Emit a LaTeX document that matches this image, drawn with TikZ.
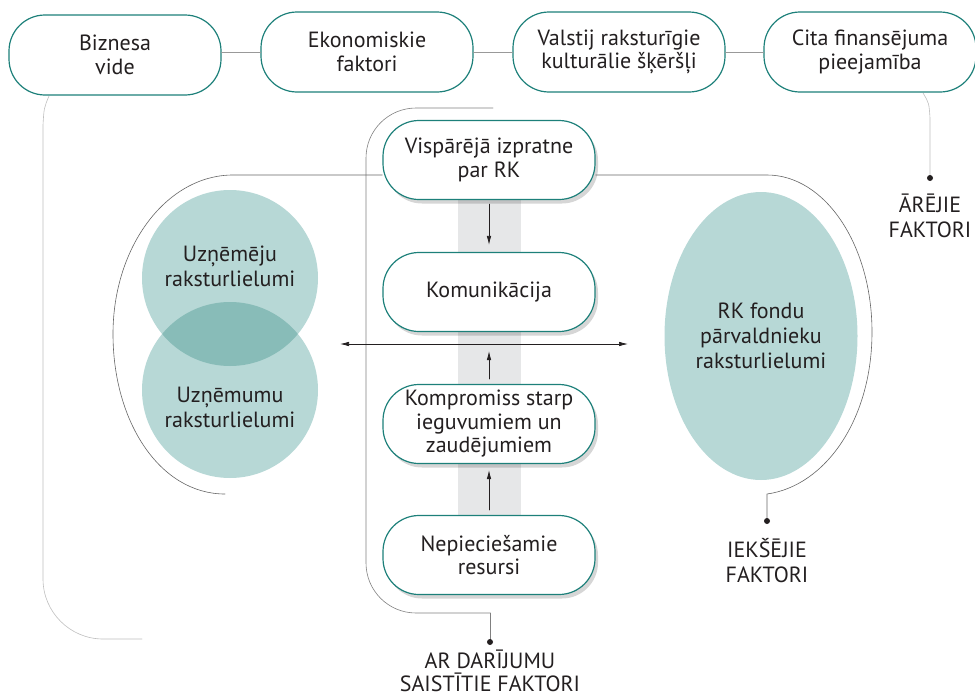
\documentclass[tikz,border=0pt]{standalone}
\usepackage{fontspec}
\setmainfont{PT Sans}
\usetikzlibrary{arrows.meta,shadows,shapes.geometric}
\definecolor{tealline}{HTML}{1D807A}
\definecolor{mint}{HTML}{B7D8D6}
\definecolor{mintdark}{HTML}{88BCB8}
\definecolor{band}{HTML}{E6E7E8}
\definecolor{ink}{HTML}{231F20}

\begin{document}
\begin{tikzpicture}[x=1pt,y=-1pt,line cap=round,line join=round,
    factor/.style={draw=tealline,line width=1.2pt,fill=white,rounded corners=36pt,
      minimum width=212pt,minimum height=80pt,align=center,text=ink,
      font=\fontsize{22}{23.5}\selectfont},
    stepbox/.style={factor,minimum height=79pt,
      drop shadow={shadow xshift=3pt,shadow yshift=-4pt,fill=black,opacity=0.16}},
    blob/.style={fill=mint,inner sep=0pt},
    blobtext/.style={align=center,text=ink,font=\fontsize{22}{25}\selectfont},
    note/.style={align=center,text=ink,inner sep=1pt,font=\fontsize{22}{25}\selectfont},
    rim/.style={draw=black!60,line width=0.6pt},
    rimlight/.style={draw=black!25,line width=0.6pt},
    link/.style={draw=black!40,line width=0.8pt},
    arr/.style={draw=ink,line width=0.7pt,-{Latex[length=9pt,width=4.5pt]}}]
  \useasboundingbox (0,0) rectangle (975,699);

  % grey band behind the column
  \fill[band] (458,200) rectangle (521,516);

  % outer outlines
  \draw[rimlight] (49,96) .. controls (44,108) .. (43,125) -- (43,579)
    .. controls (43,612) and (70,639) .. (103,639) -- (142,639);
  \draw[rimlight] (923,93) .. controls (929,103) .. (930,118) -- (930,178);
  \fill[ink] (930,178) circle (3pt);

  \draw[rim,draw=black!50,rounded corners=50pt] (493,108) -- (366,108) -- (366,613) -- (490,613);
  \draw[rim,draw=black!50] (490,613) -- (490,642);
  \fill[ink] (490,642) circle (3pt);

  % circles and ellipse
  \node[blob,circle,minimum size=176pt] (top) at (230,278) {};
  \node[blob,circle,minimum size=176pt] (low) at (230,390) {};
  \begin{scope}
    \clip (230,278) circle (88pt);
    \fill[mintdark] (230,390) circle (88pt);
  \end{scope}
  \node[blobtext] (uzn1) at (230,266) {Uzņēmēju\\raksturlielumi};
  \node[blobtext] (uzn2) at (230,407) {Uzņēmumu\\raksturlielumi};
  \node[blob,ellipse,minimum width=193pt,minimum height=288pt,blobtext] (rk) at (761,336)
    {RK fondu\\pārvaldnieku\\raksturlielumi};

  % top row
  \node[factor] (biz) at (115,55) {Biznesa\\vide};
  \node[factor] (eko) at (367,52) {Ekonomiskie\\faktori};
  \node[factor] (val) at (619,52) {Valstij raksturīgie\\kulturālie šķēršļi};
  \node[factor] (cita) at (870,52) {Cita finansējuma\\pieejamība};
  \draw[link] (biz.east |- eko.west) -- (eko.west);
  \draw[link] (eko) -- (val);
  \draw[link] (val) -- (cita);

  % column
  \node[stepbox] (visp) at (489,160) {Vispārējā izpratne\\par RK};
  \node[stepbox] (kom) at (489,292) {Komunikācija};
  \node[stepbox] (komp) at (489,424) {Kompromiss starp\\ieguvumiem un\\zaudējumiem};
  \node[stepbox] (nep) at (489,555) {Nepieciešamie\\resursi};

  % inner outline
  \draw[rim] ([yshift=-15pt]visp.west) -- (233,175)
    .. controls (167,175) and (113,246) .. (113,334)
    .. controls (113,422) and (160,494) .. (225,494);
  \draw[rim] ([yshift=-15pt]visp.east) -- (767,175)
    .. controls (825,175) and (872,245) .. (872,332)
    .. controls (872,420) and (825,486) .. (767,494) -- (767,521);
  \fill[ink] (767,521) circle (3pt);

  \draw[arr,shorten <=4pt,shorten >=7pt] (visp) -- (kom);
  \draw[arr,shorten <=5pt,shorten >=19pt] (komp) -- (kom);
  \draw[arr,shorten <=5pt,shorten >=6pt] (nep) -- (komp);
  \coordinate (wl) at (340,344);
  \coordinate (wr) at (628,344);
  \draw[arr,{Latex[length=9pt,width=4.5pt]}-{Latex[length=9pt,width=4.5pt]}] (wl) -- (wr);

  % labels
  \node[note] (are) at (930,216) {ĀRĒJIE\\FAKTORI};
  \node[note] (iek) at (767,561) {IEKŠĒJIE\\FAKTORI};
  \node[note,font=\fontsize{22}{23}\selectfont] (ard) at (490,671) {AR DARĪJUMU\\SAISTĪTIE FAKTORI};
\end{tikzpicture}
\end{document}
